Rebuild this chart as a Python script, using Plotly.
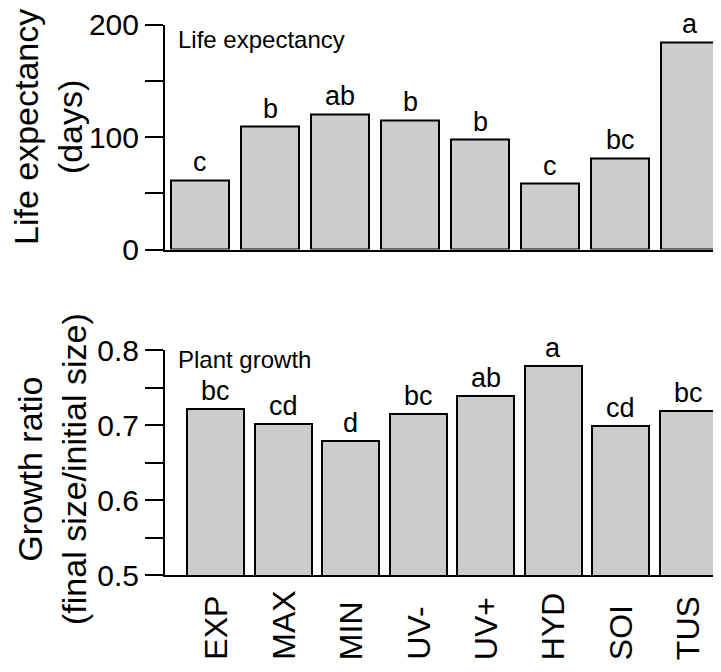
import plotly.graph_objects as go

categories = ["EXP", "MAX", "MIN", "UV-", "UV+", "HYD", "SOI", "TUS"]
life_expectancy = [61.5, 109, 120, 115, 97.5, 58.5, 81, 184]
life_letters = ["c", "b", "ab", "b", "b", "c", "bc", "a"]
growth_ratio = [0.722, 0.701, 0.679, 0.715, 0.739, 0.779, 0.699, 0.719]
growth_letters = ["bc", "cd", "d", "bc", "ab", "a", "cd", "bc"]
life_ticks = [0, 50, 100, 150, 200]
life_ticktext = ["0", "", "100", "", "200"]
growth_ticks = [0.5, 0.55, 0.6, 0.65, 0.7, 0.75, 0.8]
growth_ticktext = ["0.5", "", "0.6", "", "0.7", "", "0.8"]

FONT = "Arial, Liberation Sans, sans-serif"
OFF = 8  # page body margin
W, H = 721 - OFF, 672 - OFF


def py(ref_y):
    """convert a page pixel row to paper fraction"""
    return 1 - (ref_y - OFF) / H


fig = go.Figure()
fig.add_trace(go.Bar(x=categories, y=life_expectancy, xaxis="x", yaxis="y",
                     width=0.83, marker=dict(color="#cccccc", line=dict(color="black", width=2)),
                     showlegend=False, hoverinfo="skip"))
fig.add_trace(go.Bar(x=categories, y=growth_ratio, xaxis="x2", yaxis="y2",
                     width=0.845,
                     marker=dict(color="#cccccc", line=dict(color="black", width=2)),
                     showlegend=False, hoverinfo="skip"))

annotations = []
for c, v, t in zip(categories, life_expectancy, life_letters):
    annotations.append(dict(x=c, y=v, xref="x", yref="y", text=t, showarrow=False,
                            yanchor="bottom", yshift=1, font=dict(size=27, color="black", family=FONT)))
for c, v, t in zip(categories, growth_ratio, growth_letters):
    annotations.append(dict(x=c, y=v, xref="x2", yref="y2", text=t, showarrow=False,
                            yanchor="bottom", yshift=1, font=dict(size=27, color="black", family=FONT)))
for c in categories:
    annotations.append(dict(x=c, y=py(662), xref="x2", yref="paper", text=c, showarrow=False,
                            textangle=-90, xanchor="center", yanchor="bottom",
                            font=dict(size=32, color="black", family=FONT)))

annotations.append(dict(x=0, xshift=11, xref="paper", xanchor="left", y=py(39), yref="paper",
                        yanchor="middle", text="Life expectancy", showarrow=False,
                        font=dict(size=24, color="black", family=FONT)))
annotations.append(dict(x=0, xshift=11, xref="paper", xanchor="left", y=py(359), yref="paper",
                        yanchor="middle", text="Plant growth", showarrow=False,
                        font=dict(size=24, color="black", family=FONT)))
annotations.append(dict(x=0, xshift=-117, xref="paper", xanchor="center", y=py(127), yref="paper",
                        yanchor="middle", text="Life expectancy<br>(days)", showarrow=False,
                        textangle=-90, align="center",
                        font=dict(size=34, color="black", family=FONT)))
annotations.append(dict(x=0, xshift=-113, xref="paper", xanchor="center", y=py(469), yref="paper",
                        yanchor="middle", text="Growth ratio<br>(final size/initial size)", showarrow=False,
                        textangle=-90, align="center",
                        font=dict(size=34, color="black", family=FONT)))

axis_common = dict(showgrid=False, zeroline=False, showline=True, linecolor="black", linewidth=2,
                   automargin=False)
fig.update_layout(
    width=W, height=H,
    margin=dict(l=165 - OFF, r=0, t=0, b=0, autoexpand=False),
    paper_bgcolor="white", plot_bgcolor="white",
    bargap=0,
    font=dict(family=FONT, color="black"),
    xaxis=dict(domain=[0, 1], anchor="y", range=[-0.5, -0.5 + (W - 165 + OFF) / 70],
               showticklabels=False, ticks="", **axis_common),
    yaxis=dict(domain=[py(249.5), py(24.5)], anchor="x", range=[0, 200],
               tickvals=life_ticks, ticktext=life_ticktext, ticks="outside", ticklen=18,
               tickwidth=2, tickcolor="black", tickfont=dict(size=30, family=FONT, color="black"),
               **axis_common),
    xaxis2=dict(domain=[0, 1], anchor="y2", range=[-0.75, -0.75 + (W - 165 + OFF) / 67.5],
                showticklabels=False, ticks="", **axis_common),
    yaxis2=dict(domain=[py(575), py(350)], anchor="x2", range=[0.5, 0.8],
                tickvals=growth_ticks, ticktext=growth_ticktext, ticks="outside", ticklen=18,
                tickwidth=2, tickcolor="black", tickfont=dict(size=30, family=FONT, color="black"),
                **axis_common),
    annotations=annotations,
)

fig.write_html("out.html")
